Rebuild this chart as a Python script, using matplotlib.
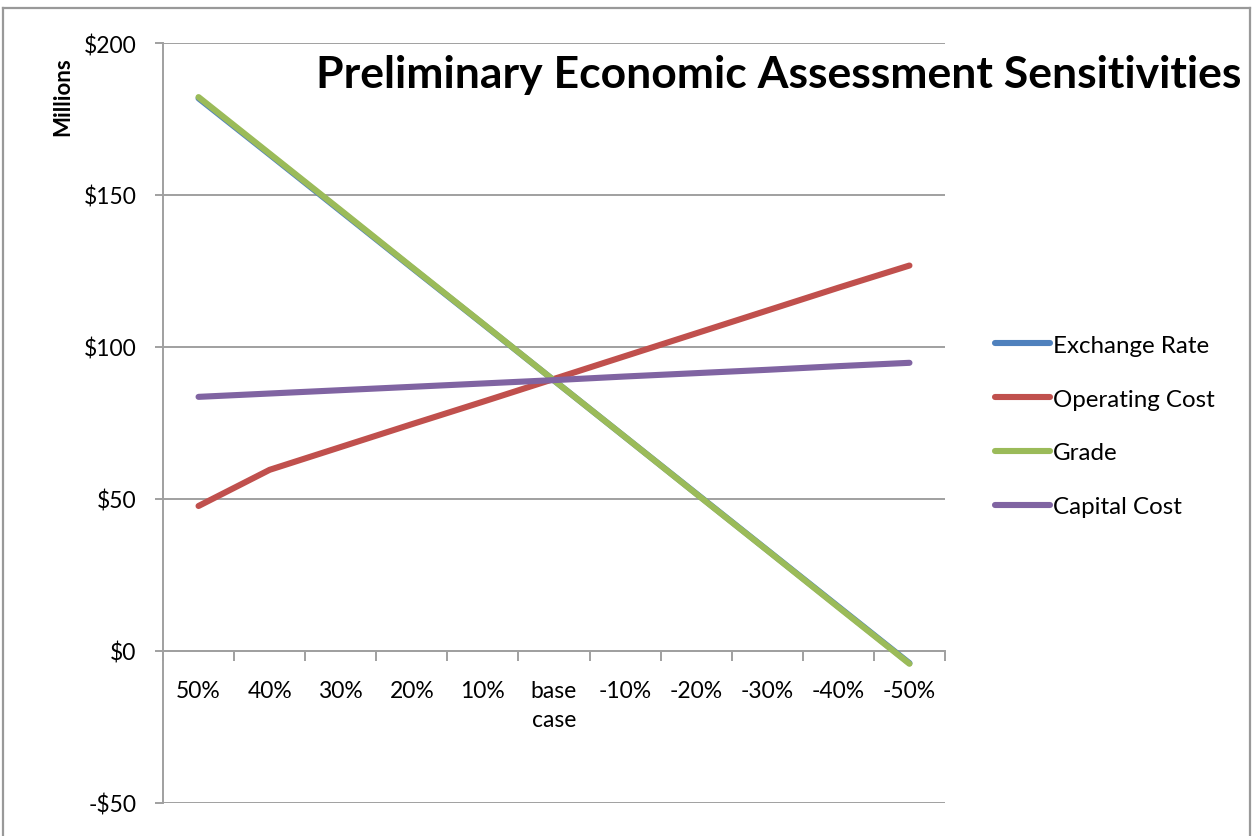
import matplotlib
matplotlib.use("Agg")
import matplotlib.pyplot as plt
from matplotlib.lines import Line2D
from matplotlib.ticker import FuncFormatter, FixedLocator

plt.rcParams['font.family'] = ['Lato', 'DejaVu Sans']

# Sensitivity steps (change applied to each input)
categories = ["50%", "40%", "30%", "20%", "10%", "base\ncase",
              "-10%", "-20%", "-30%", "-40%", "-50%"]

# NPV in $ millions for each sensitivity
exchange_rate = [181.8, 163.3, 144.7, 126.1, 107.6, 89.0, 70.4, 51.8, 33.2, 14.6, -4.0]
operating_cost = [47.7, 59.6, 67.1, 74.6, 82.0, 89.5, 97.0, 104.5, 112.0, 119.5, 126.8]
grade = [182.2, 163.6, 145.0, 126.3, 107.7, 89.0, 70.4, 51.7, 33.1, 14.4, -4.2]
capital_cost = [83.6, 84.7, 85.8, 86.9, 88.0, 89.1, 90.3, 91.4, 92.5, 93.7, 94.8]

series = [
    ("Exchange Rate", exchange_rate, "#4F81BD"),
    ("Operating Cost", operating_cost, "#C0504D"),
    ("Grade", grade, "#9BBB59"),
    ("Capital Cost", capital_cost, "#8064A2"),
]

W, H = 1253, 837
fig = plt.figure(figsize=(W / 100, H / 100), dpi=100)
ax = fig.add_axes([163 / W, 1 - 804 / H, (945 - 163) / W, (804 - 44) / H])

grid_col = "#A0A0A0"
x = list(range(len(categories)))
for name, vals, col in series:
    ax.plot(x, vals, color=col, lw=4.4, solid_capstyle="round",
            solid_joinstyle="round", label=name, zorder=3)

ax.set_xlim(-0.5, len(categories) - 0.5)
ax.set_ylim(-50, 200)
ax.set_yticks([-50, 0, 50, 100, 150, 200])
ax.yaxis.set_major_formatter(FuncFormatter(
    lambda v, p: f"-${abs(int(v))}" if v < 0 else f"${int(v)}"))
ax.grid(axis="y", color=grid_col, lw=1.4, zorder=0)
ax.tick_params(axis="y", length=6, width=1.4, color=grid_col,
               labelsize=16.5, pad=13)

# category axis drawn along the zero line
for s in ["top", "right"]:
    ax.spines[s].set_visible(False)
ax.spines["bottom"].set_position(("data", 0))
ax.spines["bottom"].set_color(grid_col)
ax.spines["bottom"].set_linewidth(1.4)
ax.spines["left"].set_color(grid_col)
ax.spines["left"].set_linewidth(1.4)

ax.xaxis.set_major_locator(FixedLocator([i - 0.5 for i in range(len(categories) + 1)]))
ax.xaxis.set_major_formatter(FuncFormatter(lambda v, p: ""))
ax.xaxis.set_minor_locator(FixedLocator(x))
ax.set_xticklabels(categories, minor=True, linespacing=1.45)
ax.tick_params(axis="x", which="major", length=7, width=1.4, color=grid_col)
ax.tick_params(axis="x", which="minor", length=0, labelsize=16.5, pad=21)

fig.text(63 / W, 1 - 97 / H, "Millions", rotation=90, fontsize=16,
         fontweight="bold", ha="center", va="center")
fig.text((317 + 1240) / 2 / W, 1 - 75 / H,
         "Preliminary Economic Assessment Sensitivities",
         fontsize=32, fontweight="bold", ha="center", va="center")

leg = ax.legend(loc="center left", bbox_to_anchor=(995 / W, 1 - 427 / H),
                bbox_transform=fig.transFigure, frameon=False, fontsize=17.4,
                handlelength=2.27, handletextpad=0.12, labelspacing=1.36,
                borderpad=0, borderaxespad=0)
for h in leg.get_lines():
    h.set_linewidth(4.4)
    h.set_solid_capstyle("round")

# outer chart frame
for xs, ys in [([3 / W, 3 / W], [0, 1 - 9 / H]),
               ([3 / W, 1250 / W], [1 - 9 / H, 1 - 9 / H]),
               ([1250 / W, 1250 / W], [1 - 9 / H, 0])]:
    fig.add_artist(Line2D(xs, ys, color="#999999", lw=1.6,
                          transform=fig.transFigure))

fig.savefig("out.png", dpi=100)
